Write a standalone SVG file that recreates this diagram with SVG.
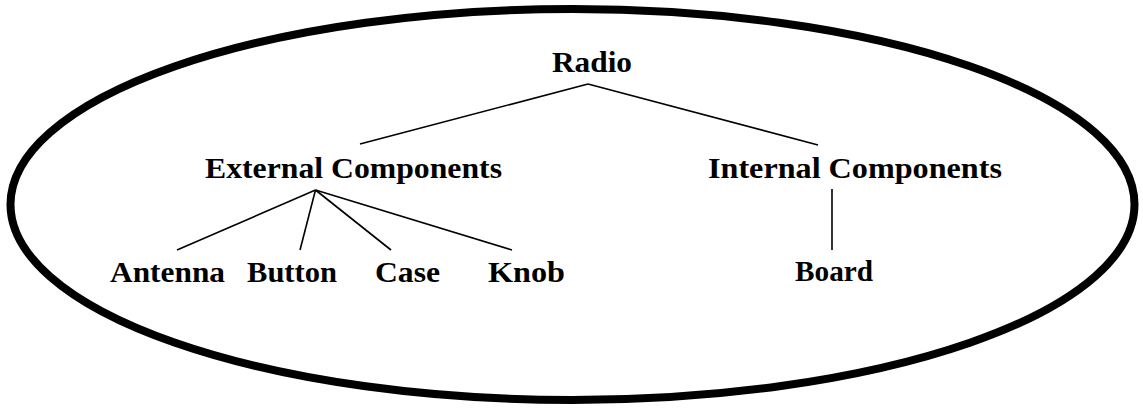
<svg xmlns="http://www.w3.org/2000/svg" width="1143" height="410" viewBox="0 0 1143 410">
<style>
.lbl{font-family:"Liberation Serif","Times New Roman",serif;font-weight:bold;font-size:29px;fill:#000}
.edge{stroke:#000;stroke-width:1.6;fill:none}
</style>
<rect width="1143" height="410" fill="#fff"/>
<ellipse id="boundary" cx="572.5" cy="204.5" rx="562" ry="195.5" fill="none" stroke="#000" stroke-width="8"/>
<g id="connectors">
<line class="edge" x1="588" y1="84" x2="360" y2="144"/>
<line class="edge" x1="588" y1="84" x2="818" y2="145"/>
<line class="edge" x1="315.5" y1="190" x2="177" y2="250"/>
<line class="edge" x1="315.5" y1="190" x2="300" y2="250"/>
<line class="edge" x1="315.5" y1="190" x2="391" y2="250"/>
<line class="edge" x1="315.5" y1="190" x2="512" y2="250"/>
<line class="edge" x1="832" y1="189" x2="832" y2="250"/>
</g>
<g id="radio"><text class="lbl" x="552" y="72" textLength="80" lengthAdjust="spacingAndGlyphs">Radio</text></g>
<g id="external"><text class="lbl" x="205" y="178" textLength="297" lengthAdjust="spacingAndGlyphs">External Components</text></g>
<g id="internal"><text class="lbl" x="708" y="178" textLength="294" lengthAdjust="spacingAndGlyphs">Internal Components</text></g>
<g id="antenna"><text class="lbl" x="110" y="282" textLength="115" lengthAdjust="spacingAndGlyphs">Antenna</text></g>
<g id="button"><text class="lbl" x="247" y="282" textLength="90" lengthAdjust="spacingAndGlyphs">Button</text></g>
<g id="case"><text class="lbl" x="375" y="282" textLength="65" lengthAdjust="spacingAndGlyphs">Case</text></g>
<g id="knob"><text class="lbl" x="488" y="282" textLength="77" lengthAdjust="spacingAndGlyphs">Knob</text></g>
<g id="board"><text class="lbl" x="795" y="281" textLength="78" lengthAdjust="spacingAndGlyphs">Board</text></g>
</svg>
